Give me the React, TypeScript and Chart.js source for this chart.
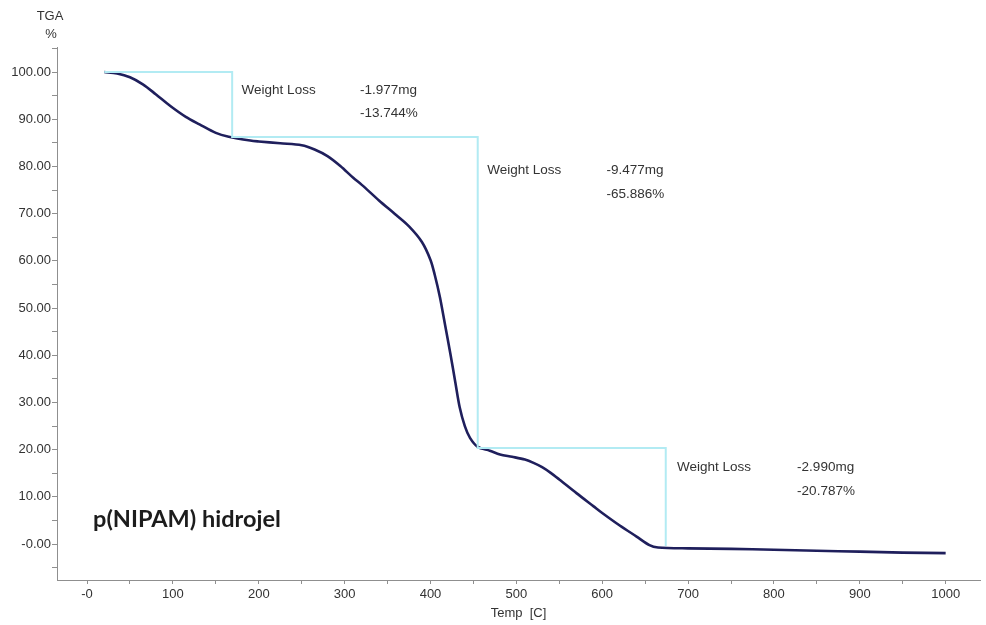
import { useEffect, useRef } from 'react';
import { Chart, registerables } from 'chart.js';

Chart.register(...registerables);

// TGA curve: temperature (°C) and remaining mass (%)
const temperature = [
  20, 35, 50, 65, 80, 97, 115, 131, 150, 165, 190, 200, 225, 250, 265, 280, 295, 310, 320, 340,
  360, 375, 390, 400, 405, 411, 417, 423, 429, 434, 440, 446, 455, 469, 481, 495, 510, 520, 530,
  540, 550, 570, 590, 600, 620, 640, 655, 665, 700, 750, 800, 850, 900, 950, 1000,
];
const massPercent = [
  100.0, 99.7, 98.9, 97.4, 95.3, 92.8, 90.5, 88.9, 87.1, 86.3, 85.5, 85.3, 84.9, 84.5, 83.6, 82.2,
  80.1, 77.6, 76.1, 72.8, 69.7, 67.3, 64.0, 60.2, 57.0, 52.3, 46.4, 40.5, 34.2, 29.0, 25.0, 22.5,
  20.6, 19.8, 19.0, 18.5, 17.9, 17.2, 16.3, 15.1, 13.7, 10.8, 8.0, 6.6, 4.0, 1.6, -0.2, -0.7, -0.9,
  -1.0, -1.2, -1.4, -1.6, -1.8, -1.9,
];

// Weight-loss step construction
const stepTemps = [20, 169, 169, 455, 455, 674, 674];
const stepLevels = [100, 100, 86.256, 86.256, 20.37, 20.37, -0.417];

// Weight-loss annotations
const lossTitles = ['Weight Loss', 'Weight Loss', 'Weight Loss'];
const lossMg = ['-1.977mg', '-9.477mg', '-2.990mg'];
const lossPct = ['-13.744%', '-65.886%', '-20.787%'];
const lossTitleX = [180, 466, 687];
const lossValueX = [318, 605, 827];
const lossMgY = [96.2, 79.2, 16.3];
const lossPctY = [91.3, 74.2, 11.2];

const sampleName = 'p(NIPAM) hidrojel';
const sampleX = 7;
const sampleY = 5.2;

const yTicks = [-5, 0, 5, 10, 15, 20, 25, 30, 35, 40, 45, 50, 55, 60, 65, 70, 75, 80, 85, 90, 95, 100, 105];
const xTicks = [0, 50, 100, 150, 200, 250, 300, 350, 400, 450, 500, 550, 600, 650, 700, 750, 800, 850, 900, 950, 1000];

const AXIS = '#8f8f8f';
const TEXT = '#333333';

export default function App() {
  const ref = useRef<HTMLCanvasElement | null>(null);

  useEffect(() => {
    if (!ref.current) return;
    const annotate = {
      id: 'annotate',
      afterDraw(chart: any) {
        const { ctx, scales } = chart;
        const xs = scales.x;
        const ys = scales.y;
        ctx.save();
        ctx.fillStyle = TEXT;
        ctx.textBaseline = 'middle';
        ctx.textAlign = 'left';
        ctx.font = '13.5px "Liberation Sans", Arial, sans-serif';
        for (let i = 0; i < lossTitles.length; i++) {
          ctx.fillText(lossTitles[i], xs.getPixelForValue(lossTitleX[i]), ys.getPixelForValue(lossMgY[i]));
          ctx.fillText(lossMg[i], xs.getPixelForValue(lossValueX[i]), ys.getPixelForValue(lossMgY[i]));
          ctx.fillText(lossPct[i], xs.getPixelForValue(lossValueX[i]), ys.getPixelForValue(lossPctY[i]));
        }
        // axis caption
        ctx.textAlign = 'center';
        ctx.font = '13px "Liberation Sans", Arial, sans-serif';
        const left = chart.chartArea.left;
        ctx.fillText('TGA', left - 7, 16);
        ctx.fillText('%', left - 6, 34);
        // sample name
        ctx.textAlign = 'left';
        ctx.fillStyle = '#1c1c1c';
        ctx.font = 'bold 23.5px Lato, "Open Sans", sans-serif';
        ctx.fillText(sampleName, xs.getPixelForValue(sampleX), ys.getPixelForValue(sampleY));
        ctx.restore();
      },
    };

    const chart = new Chart(ref.current, {
      type: 'line',
      data: {
        datasets: [
          {
            label: 'Steps',
            data: stepTemps.map((t, i) => ({ x: t, y: stepLevels[i] })),
            borderColor: '#b2ebf3',
            borderWidth: 2,
            pointRadius: 0,
            tension: 0,
            fill: false,
          },
          {
            label: 'TGA',
            data: temperature.map((t, i) => ({ x: t, y: massPercent[i] })),
            borderColor: '#1f1f5c',
            borderWidth: 2.6,
            pointRadius: 0,
            tension: 0.3,
            fill: false,
          },
        ],
      },
      options: {
        responsive: false,
        animation: false,
        devicePixelRatio: 1,
        layout: { padding: { top: 47, right: 6, left: 0, bottom: 0 } },
        plugins: { legend: { display: false }, tooltip: { enabled: false }, title: { display: false } },
        scales: {
          x: {
            type: 'linear',
            position: 'bottom',
            min: -35,
            max: 1040,
            afterBuildTicks: (s: any) => {
              s.ticks = xTicks.map((v) => ({ value: v }));
            },
            afterFit: (s: any) => {
              s.height = 45;
            },
            grid: { drawOnChartArea: false, drawTicks: true, tickLength: 4, color: AXIS },
            border: { display: true, color: AXIS, width: 1 },
            ticks: {
              autoSkip: false,
              maxRotation: 0,
              minRotation: 0,
              padding: 3,
              color: TEXT,
              font: { family: '"Liberation Sans", Arial, sans-serif', size: 13 },
              callback: (v: any) => {
                const n = Number(v);
                if (n % 100 !== 0) return '';
                return n === 0 ? '-0' : String(n);
              },
            },
            title: {
              display: true,
              text: 'Temp  [C]',
              color: TEXT,
              font: { family: '"Liberation Sans", Arial, sans-serif', size: 13 },
              padding: { top: 0, bottom: 4 },
            },
          },
          y: {
            type: 'linear',
            min: -7.6,
            max: 105.3,
            afterBuildTicks: (s: any) => {
              s.ticks = yTicks.map((v) => ({ value: v }));
            },
            afterFit: (s: any) => {
              s.width = 57;
            },
            grid: { drawOnChartArea: false, drawTicks: true, tickLength: 5, color: AXIS },
            border: { display: true, color: AXIS, width: 1 },
            ticks: {
              autoSkip: false,
              padding: 1,
              color: TEXT,
              font: { family: '"Liberation Sans", Arial, sans-serif', size: 13 },
              callback: (v: any) => {
                const n = Number(v);
                if (n % 10 !== 0) return '';
                return n === 0 ? '-0.00' : n.toFixed(2);
              },
            },
          },
        },
      },
      plugins: [annotate],
    } as any);

    return () => chart.destroy();
  }, []);

  return (
    <div style={{ position: 'absolute', left: 0, top: 0, width: 986, height: 625, background: '#fff' }}>
      <canvas ref={ref} width={986} height={625} />
    </div>
  );
}
